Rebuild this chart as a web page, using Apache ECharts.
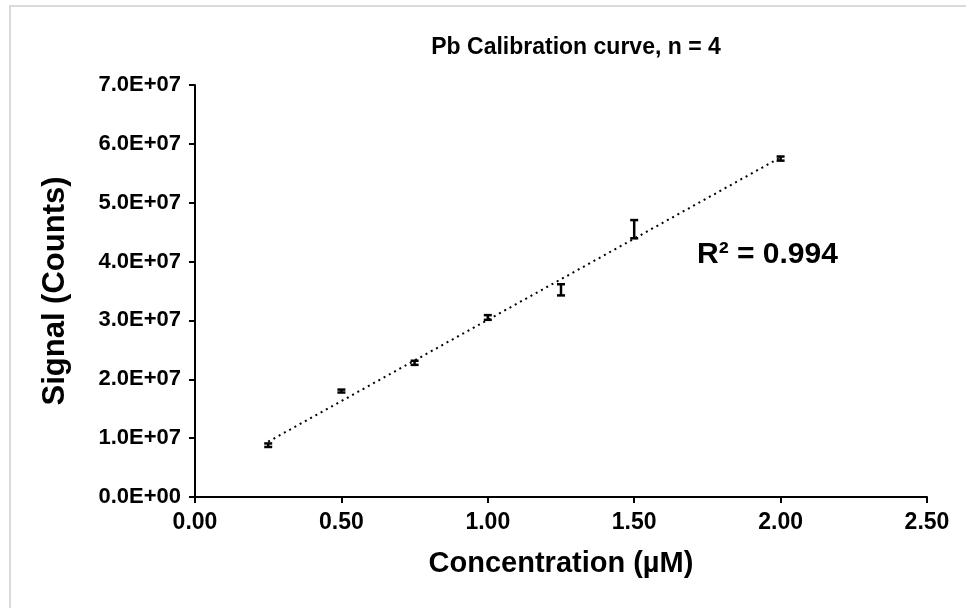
<!DOCTYPE html>
<html>
<head>
<meta charset="utf-8">
<script src="https://cdn.jsdelivr.net/npm/echarts@6/dist/echarts.min.js"></script>
<style>html,body{margin:0;padding:0;background:#fff;}#c{width:966px;height:608px;}</style>
</head>
<body>
<div id="c"></div>
<script>
// Data
const concentrations = [0.25, 0.50, 0.75, 1.00, 1.25, 1.50, 2.00];
const signals = [8.8e6, 1.80e7, 2.28e7, 3.05e7, 3.52e7, 4.55e7, 5.75e7];
const errors = [0.3e6, 0.25e6, 0.35e6, 0.4e6, 0.95e6, 1.55e6, 0.35e6];
const trendX = [0.25, 2.00];
const trendY = [9.4e6, 5.77e7];
const titleText = 'Pb Calibration curve, n = 4';
const xTitle = 'Concentration (µM)';
const yTitle = 'Signal (Counts)';
const rSquaredText = 'R² = 0.994';

function sci(v) {
  if (v === 0) return '0.0E+00';
  const e = Math.floor(Math.log10(Math.abs(v)) + 1e-9);
  const m = v / Math.pow(10, e);
  const es = (e < 0 ? '-' : '+') + String(Math.abs(e)).padStart(2, '0');
  return m.toFixed(1) + 'E' + es;
}

const errData = concentrations.map((x, i) => [x, signals[i] - errors[i], signals[i] + errors[i]]);
const trendData = trendX.map((x, i) => [x, trendY[i]]);

const chart = echarts.init(document.getElementById('c'), null, {renderer: 'canvas'});
const FONT = 'Liberation Sans, Arial, sans-serif';
chart.setOption({
  animation: false,
  backgroundColor: '#ffffff',
  title: {
    text: titleText,
    left: 571, top: 31, textAlign: 'center',
    textStyle: {fontFamily: FONT, fontWeight: 'bold', fontSize: 23, color: '#000'}
  },
  grid: {left: 195, top: 85, right: 39, bottom: 111},
  xAxis: {
    type: 'value', min: 0, max: 2.5, interval: 0.5,
    name: xTitle, nameLocation: 'middle', nameGap: 52,
    nameTextStyle: {fontFamily: FONT, fontWeight: 'bold', fontSize: 29, color: '#000'},
    axisLine: {show: true, lineStyle: {color: '#000', width: 2}},
    axisTick: {show: true, inside: false, length: 6, lineStyle: {color: '#000', width: 2}},
    splitLine: {show: false},
    axisLabel: {fontFamily: FONT, fontWeight: 'bold', fontSize: 23, color: '#000', margin: 14,
      formatter: v => v.toFixed(2)}
  },
  yAxis: {
    type: 'value', min: 0, max: 7e7, interval: 1e7,
    name: yTitle, nameLocation: 'middle', nameGap: 124, nameRotate: 90,
    nameTextStyle: {fontFamily: FONT, fontWeight: 'bold', fontSize: 31, color: '#000'},
    axisLine: {show: true, lineStyle: {color: '#000', width: 2}},
    axisTick: {show: true, inside: false, length: 6, lineStyle: {color: '#000', width: 2}},
    splitLine: {show: false},
    axisLabel: {fontFamily: FONT, fontWeight: 'bold', fontSize: 22, color: '#000', margin: 14,
      formatter: v => sci(v)}
  },
  graphic: [
    {type: 'rect', shape: {x: 10, y: 6, width: 1000, height: 700},
      style: {fill: 'none', stroke: '#d9d9d9', lineWidth: 2}, z: -1},
    {type: 'text', left: 697, top: 240,
      style: {text: rSquaredText, fontFamily: FONT, fontWeight: 'bold', fontSize: 30, fill: '#000'}}
  ],
  series: [
    {
      type: 'line', data: trendData, showSymbol: false, symbol: 'none',
      lineStyle: {color: '#000', width: 2, type: [2, 4]}, z: 2
    },
    {
      type: 'custom', data: errData, z: 3,
      renderItem: function (params, api) {
        const x = api.value(0);
        const lo = api.coord([x, api.value(1)]);
        const hi = api.coord([x, api.value(2)]);
        const hw = 4;
        return {
          type: 'group',
          children: [
            {type: 'line', shape: {x1: lo[0], y1: lo[1], x2: hi[0], y2: hi[1]}, style: {stroke: '#000', lineWidth: 2.5}},
            {type: 'line', shape: {x1: lo[0] - hw, y1: lo[1], x2: lo[0] + hw, y2: lo[1]}, style: {stroke: '#000', lineWidth: 2.5}},
            {type: 'line', shape: {x1: hi[0] - hw, y1: hi[1], x2: hi[0] + hw, y2: hi[1]}, style: {stroke: '#000', lineWidth: 2.5}}
          ]
        };
      }
    }
  ]
});
</script>
</body>
</html>
